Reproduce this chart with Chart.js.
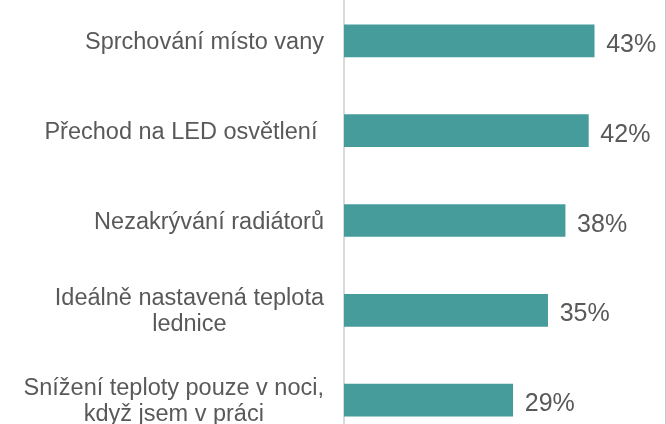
<!DOCTYPE html>
<html>
<head>
<meta charset="utf-8">
<script src="https://cdn.jsdelivr.net/npm/chart.js@4/dist/chart.umd.min.js"></script>
<style>
	html, body { margin: 0; padding: 0; background: #fff; overflow: hidden; }
	#wrap { position: absolute; left: 0; top: -4px; width: 666px; height: 449px; }
	#edge { position: absolute; left: 665px; top: 0; width: 1px; height: 424px; background: #c8c8c8; }
</style>
</head>
<body>
<div id="wrap"><canvas id="usporyChart" width="666" height="449"></canvas></div>
<div id="edge"></div>
<script>
// categories (multi-line ones split into lines)
const categories = [
	["Sprchování místo vany"],
	["Přechod na LED osvětlení "],
	["Nezakrývání radiátorů"],
	["Ideálně nastavená teplota", "lednice"],
	["Snížení teploty pouze v noci,", "když jsem v práci"],
];
const shares = [43, 42, 38, 35, 29];
const valueLabels = ["43%", "42%", "38%", "35%", "29%"];

const textColor = "#595959";
const labelFont = '23.5px "Liberation Sans", Arial, sans-serif';
const valueFont = '25px "Liberation Sans", Arial, sans-serif';

const labelPlugin = {
	id: "labels",
	afterDatasetsDraw(chart) {
		const ctx = chart.ctx;
		const yScale = chart.scales.y;
		const meta = chart.getDatasetMeta(0);
		ctx.save();
		ctx.fillStyle = textColor;

		// value labels next to the bars
		ctx.font = valueFont;
		ctx.textAlign = "left";
		ctx.textBaseline = "alphabetic";
		meta.data.forEach((bar, i) => {
			ctx.fillText(valueLabels[i], bar.x + 12, bar.y + 11);
		});

		// category labels: block right aligned, lines centred in the block
		ctx.font = labelFont;
		ctx.textAlign = "center";
		const right = 324;
		const lineH = 26;
		chart.data.labels.forEach((lines, i) => {
			const yc = yScale.getPixelForValue(i);
			const w = Math.max(...lines.map((l) => ctx.measureText(l).width));
			const cx = right - w / 2;
			let y = yc - ((lines.length - 1) * lineH) / 2 + 8;
			lines.forEach((l) => {
				ctx.fillText(l, cx, y);
				y += lineH;
			});
		});
		ctx.restore();
	},
};

const context = document.getElementById("usporyChart").getContext("2d");
new Chart(context, {
	type: "bar",
	data: {
		labels: categories,
		datasets: [
			{
				data: shares,
				backgroundColor: "#469b9b",
				borderWidth: 0,
				barThickness: 32,
			},
		],
	},
	options: {
		indexAxis: "y",
		responsive: false,
		animation: false,
		devicePixelRatio: 1,
		layout: { padding: { left: 0, right: 2, top: 0, bottom: 0 } },
		plugins: {
			legend: { display: false },
			tooltip: { enabled: false },
		},
		scales: {
			x: {
				display: false,
				min: 0,
				max: 55,
			},
			y: {
				ticks: { display: false },
				grid: { display: false },
				border: { display: true, color: "#d9d9d9", width: 2 },
				afterFit: (scale) => {
					scale.width = 344;
				},
			},
		},
	},
	plugins: [labelPlugin],
});
</script>
</body>
</html>
